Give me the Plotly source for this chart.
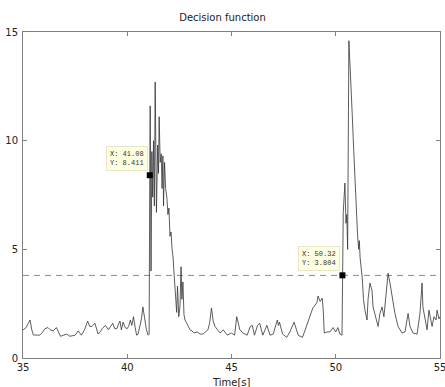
import plotly.graph_objects as go

# ---- data ----
time_s = [
    35.0, 35.15, 35.34, 35.42, 35.5, 35.65, 35.8, 35.95, 36.05, 36.2, 36.3, 36.45, 36.6, 36.7, 36.8,
    36.95, 37.1, 37.25, 37.4, 37.5, 37.65, 37.8, 37.95, 38.1, 38.2, 38.3, 38.45, 38.6, 38.7, 38.8,
    38.95, 39.1, 39.2, 39.3, 39.4, 39.5, 39.58, 39.65, 39.72, 39.8, 39.9, 40.0, 40.08, 40.15, 40.22,
    40.3, 40.38, 40.45, 40.52, 40.6, 40.68, 40.75, 40.8, 40.85, 40.92, 41.0, 41.05,
    41.08, 41.10, 41.14, 41.18, 41.22, 41.26, 41.30, 41.34, 41.40, 41.46, 41.50, 41.53, 41.58, 41.63,
    41.67, 41.71, 41.74, 41.79, 41.84, 41.90, 41.95, 42.0, 42.05, 42.10, 42.15, 42.20, 42.25, 42.29,
    42.33, 42.37, 42.41, 42.47, 42.53, 42.58, 42.62, 42.67, 42.72, 42.77, 42.85, 42.93, 43.01, 43.1,
    43.2, 43.35, 43.5, 43.63, 43.75, 43.87, 43.95, 44.04, 44.12, 44.21, 44.33,
    44.45, 44.6, 44.8, 45.0, 45.15, 45.25, 45.4, 45.55, 45.75, 45.9, 46.0, 46.1, 46.25, 46.35, 46.5,
    46.7, 46.85, 47.0, 47.2, 47.25, 47.3, 47.45, 47.65, 47.8, 48.0, 48.2, 48.4, 48.5, 48.75, 48.9,
    49.1, 49.15, 49.25, 49.35, 49.4, 49.45, 49.6, 49.72, 49.87, 50.0, 50.1, 50.2, 50.3,
    50.32, 50.36, 50.44, 50.49, 50.53, 50.57, 50.63, 50.7, 50.8, 50.86, 50.95, 51.0, 51.05, 51.1,
    51.13, 51.17, 51.27, 51.33, 51.40, 51.50, 51.55, 51.64, 51.74, 51.79, 51.93, 52.03, 52.12, 52.22,
    52.31, 52.36, 52.46, 52.51, 52.60, 52.70, 52.84, 52.99, 53.18, 53.32, 53.47, 53.56, 53.71, 53.90,
    54.04, 54.14, 54.18, 54.38, 54.47, 54.62, 54.71, 54.81, 54.86, 54.95, 55.0,
]
decision_value = [
    1.29, 1.4, 1.75, 1.3, 1.06, 1.05, 1.05, 1.2, 1.35, 1.4, 1.3, 1.25, 1.4, 1.2, 1.0,
    1.05, 1.1, 1.0, 1.05, 1.05, 1.25, 1.05, 1.3, 1.7, 1.45, 1.45, 1.6, 1.1, 1.2, 1.35,
    1.5, 1.3, 1.45, 1.6, 1.35, 1.35, 1.55, 1.7, 1.3, 1.65, 1.4, 1.35, 1.5, 1.75, 1.5,
    1.9, 1.4, 1.05, 1.1, 1.45, 1.8, 2.35, 2.0, 1.75, 1.3, 1.05, 1.1,
    8.411, 11.6, 4.0, 9.5, 7.4, 10.0, 7.0, 12.7, 6.7, 9.8, 8.5, 11.1, 9.0, 9.4,
    7.8, 9.3, 7.0, 9.0, 7.8, 7.4, 6.6, 6.9, 5.6, 5.8, 5.0, 4.6, 3.8, 3.0,
    2.4, 2.1, 3.3, 1.9, 2.4, 4.2, 2.7, 3.5, 2.0, 1.75, 1.6, 1.45, 1.3, 1.25,
    1.15, 1.2, 1.1, 1.1, 1.2, 1.3, 1.6, 2.3, 1.7, 1.45, 1.3,
    1.15, 1.3, 1.05, 1.15, 1.05, 1.9, 1.3, 1.15, 1.05, 1.45, 1.5, 1.05, 1.5, 1.6, 1.05,
    1.5, 1.05, 1.1, 1.75, 1.5, 1.65, 1.1, 0.95, 1.2, 1.65, 1.05, 0.95, 1.2, 1.9, 2.3,
    2.55, 2.85, 2.6, 2.75, 2.2, 1.15, 1.2, 1.2, 1.4, 1.2, 1.4, 1.1, 1.05,
    3.804, 6.7, 8.05, 6.2, 6.6, 5.0, 14.6, 13.3, 11.0, 9.6, 7.5, 6.5, 5.6, 5.0,
    5.4, 4.6, 3.7, 2.7, 2.2, 1.75, 2.7, 3.45, 3.1, 2.35, 1.75, 1.45, 2.05, 2.35,
    1.9, 2.35, 3.45, 3.9, 3.45, 2.8, 2.05, 1.45, 1.15, 1.2, 2.05, 1.45, 1.15, 1.1,
    2.05, 3.45, 2.35, 1.3, 2.2, 1.45, 1.9, 1.75, 2.2, 1.8, 1.9,
]
threshold = 3.8
tip_x = [41.08, 50.32]
tip_y = [8.411, 3.804]
tip_text = ["X: 41.08<br>Y: 8.411", "X: 50.32<br>Y: 3.804"]
x_ticks = [35, 40, 45, 50, 55]
y_ticks = [0, 5, 10, 15]

fig = go.Figure()
fig.add_trace(go.Scatter(
    x=[35, 55], y=[threshold, threshold], mode="lines",
    line=dict(color="#8a8a8a", width=1, dash="6px,5px"), hoverinfo="skip",
))
fig.add_trace(go.Scatter(
    x=time_s, y=decision_value, mode="lines",
    line=dict(color="#333333", width=0.8),
))
fig.add_trace(go.Scatter(
    x=tip_x, y=tip_y, mode="markers",
    marker=dict(symbol="square", size=6, color="black"),
))
for tx, ty, tt in zip(tip_x, tip_y, tip_text):
    fig.add_annotation(
        x=tx, y=ty, text=tt, showarrow=False, xanchor="right", yanchor="bottom",
        xshift=-2, yshift=4, align="left",
        font=dict(family="Liberation Mono", size=7, color="#333"),
        bgcolor="#ffffe1", bordercolor="#e6e6c8", borderwidth=1, borderpad=3,
    )

axis_common = dict(
    showline=True, linecolor="#808080", linewidth=1, mirror="ticks",
    ticks="inside", ticklen=4, tickcolor="#808080", showgrid=False, zeroline=False,
    automargin=False, ticklabeloverflow="allow",
    tickfont=dict(family="DejaVu Sans", size=10, color="#222"),
)
fig.update_layout(
    width=445, height=387, showlegend=False,
    margin=dict(l=23, r=5, t=32, b=29),
    plot_bgcolor="white", paper_bgcolor="white",
    title=dict(text="Decision function", x=0.5, xanchor="center", y=0.955, yanchor="middle",
               font=dict(family="DejaVu Sans", size=10, color="#222")),
    xaxis=dict(range=[35, 55], tickvals=x_ticks, ticklabelstandoff=0,
               **axis_common),
    yaxis=dict(range=[0, 15], tickvals=y_ticks, ticklabelstandoff=2, **axis_common),
)
fig.add_annotation(
    x=0.5, y=0, xref="paper", yref="paper", yshift=-17, text="Time[s]", showarrow=False,
    xanchor="center", yanchor="top", font=dict(family="DejaVu Sans", size=10, color="#222"),
)
fig.write_html(
    "out.html",
    config={"displayModeBar": False},
    post_script="document.body.style.margin='0';document.body.style.overflow='hidden';",
)
